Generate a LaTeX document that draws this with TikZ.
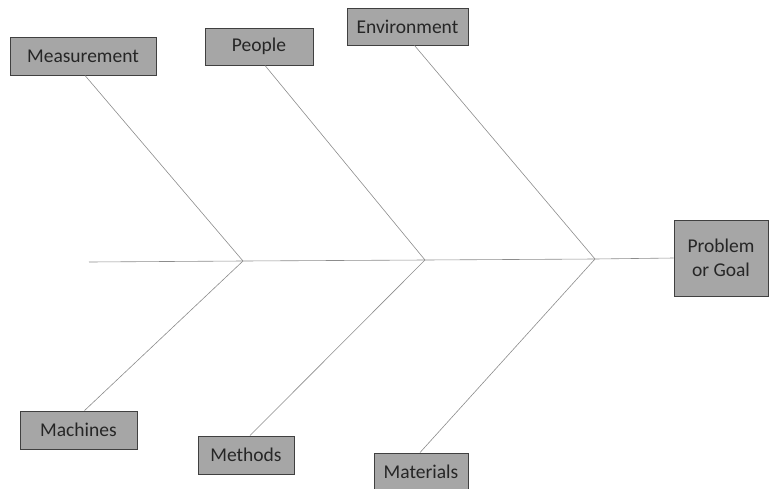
\documentclass[tikz,border=0pt]{standalone}
\usepackage{fontspec}
\setmainfont{Carlito}
\definecolor{boxfill}{HTML}{A6A6A6}
\definecolor{boxline}{HTML}{404040}
\definecolor{boneline}{HTML}{8C8C8C}
\begin{document}
\begin{tikzpicture}[x=1pt,y=-1pt,
  cause/.style={draw=boxline,fill=boxfill,line width=0.9pt,inner sep=0pt,
    font=\fontsize{19.5}{23}\selectfont,text=black!85},
  bone/.style={draw=boneline,line width=0.6pt}]
\useasboundingbox (0,0) rectangle (769,488);
% cause boxes
\node[cause,minimum width=146,minimum height=38] (meas) at (83,56) {Measurement};
\node[cause,minimum width=108,minimum height=37] (peop) at (259,46.5) {People};
\node[cause,minimum width=121,minimum height=37] (env) at (407.5,26.5) {Environment};
\node[cause,minimum width=117,minimum height=38] (mach) at (78.5,430) {Machines};
\node[cause,minimum width=96,minimum height=38] (meth) at (246,455) {Methods};
\node[cause,minimum width=94,minimum height=38] (mat) at (421,472) {Materials};
% effect box
\node[cause,minimum width=94,minimum height=76,align=center,font=\fontsize{19.5}{24}\selectfont] (goal) at (721,258) {Problem\\or Goal};
% spine
\coordinate (tail) at (89,262);
\coordinate (j1) at (243,261);
\coordinate (j2) at (425,260);
\coordinate (j3) at (595,259);
\draw[bone] (tail) -- (j1) -- (j2) -- (j3) -- (goal.west);
% bones
\draw[bone] ([xshift=2]meas.south) -- (j1);
\draw[bone] ([xshift=6]peop.south) -- (j2);
\draw[bone] ([xshift=7]env.south) -- (j3);
\draw[bone] ([xshift=6]mach.north) -- (j1);
\draw[bone] ([xshift=4]meth.north) -- (j2);
\draw[bone] ([xshift=-1]mat.north) -- (j3);
\end{tikzpicture}
\end{document}
